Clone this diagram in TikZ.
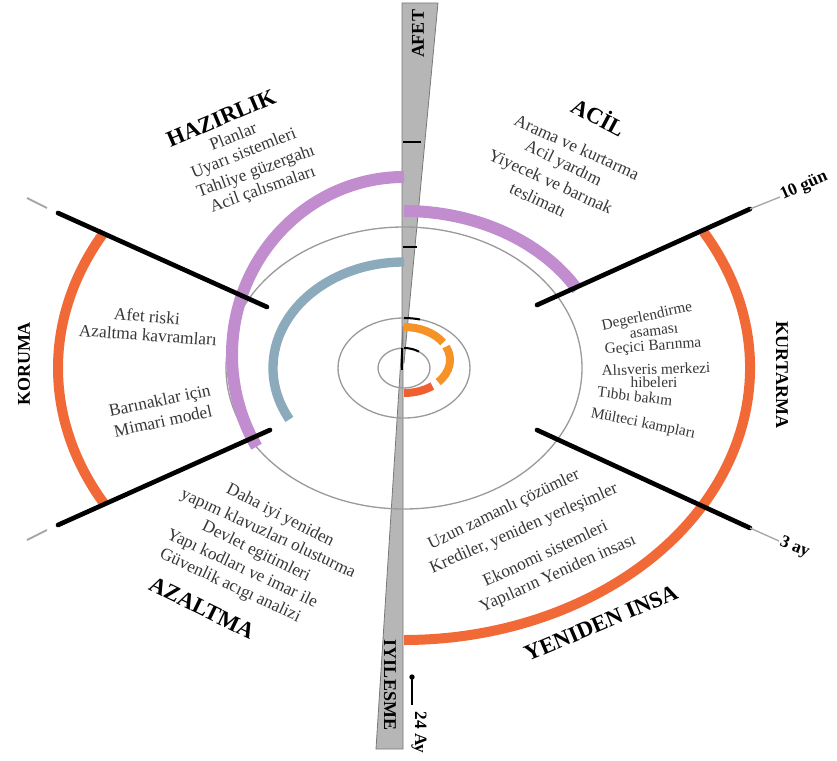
\documentclass[tikz,border=0pt]{standalone}
\usepackage{fontspec}
\setmainfont{Liberation Serif}
\definecolor{axisgray}{RGB}{182,182,182}
\definecolor{axisedge}{RGB}{120,120,120}
\definecolor{ringgray}{RGB}{155,155,155}
\definecolor{purp}{RGB}{193,141,207}
\definecolor{steel}{RGB}{139,170,188}
\definecolor{outer}{RGB}{242,105,56}
\definecolor{inner}{RGB}{246,146,38}
\definecolor{innerred}{RGB}{240,95,50}
\definecolor{txt}{RGB}{55,55,55}
\begin{document}
\begin{tikzpicture}[x=.75pt,y=.75pt,
  item/.style={font=\fontsize{13}{13}\selectfont,text=txt,inner sep=0pt},
  itemsm/.style={font=\fontsize{11.5}{11.5}\selectfont,text=txt,inner sep=0pt},
  head/.style={font=\fontsize{17}{17}\selectfont\bfseries,inner sep=0pt},
  side/.style={font=\fontsize{13.5}{13.5}\selectfont\bfseries,inner sep=0pt},
  time/.style={font=\fontsize{13}{13}\selectfont\bfseries,inner sep=1pt},
  ring/.style={ringgray,line width=1pt},
  spoke/.style={line width=3.5pt,line cap=round},
  tail/.style={gray!70,line width=1pt},
  tick/.style={line width=1.5pt}]
\useasboundingbox (-404,-392) rectangle (433,368);
% Time axis
\filldraw[axisgray,draw=axisedge,line width=.6pt] (-2,365) -- (34,365) -- (0,5) -- (-2,5) -- cycle;
\filldraw[axisgray,draw=axisedge,line width=.6pt] (-28,-381) -- (-1,-381) -- (-1,42) -- cycle;
% Circles
\draw[ring] (0,0) coordinate (origin) ellipse[x radius=26,y radius=20];
\draw[ring] (origin) ellipse[x radius=66,y radius=50];
\draw[ring] (origin) ellipse[x radius=178,y radius=141];
% Phase bands
\draw[steel,line width=7pt] (origin) ++(90:131 and 106) arc[start angle=90,end angle=209,x radius=131,y radius=106];
\draw[purp,line width=9pt] (0,13) ++(90:172 and 178) arc[start angle=90,end angle=211,x radius=172,y radius=178];
\draw[purp,line width=9pt] (origin) ++(90:200 and 157) arc[start angle=90,end angle=30,x radius=200,y radius=157];
\draw[outer,line width=7.5pt] (origin) ++(30:346 and 272) arc[start angle=30,end angle=-90,x radius=346,y radius=272];
\draw[outer,line width=7.5pt] (origin) ++(150:346 and 272) arc[start angle=150,end angle=210,x radius=346,y radius=272];
% Inner ring
\draw[inner,line width=6pt] (0,8) ++(90:46 and 33) arc[start angle=90,end angle=32,x radius=46,y radius=33];
\draw[inner,line width=6pt] (0,8) ++(24:46 and 33) arc[start angle=24,end angle=-42,x radius=46,y radius=33];
\draw[innerred,line width=6pt] (0,8) ++(-52:46 and 33) arc[start angle=-52,end angle=-90,x radius=46,y radius=33];
% Marks on the axis
\draw[tick] (origin) ++(90:26 and 20) arc[start angle=90,end angle=55,x radius=26,y radius=20];
\draw[tick] (-2,20) -- (-2,-2);
\draw[tick] (origin) ++(90:66 and 50) arc[start angle=90,end angle=76,x radius=66,y radius=50];
\draw[tick] (-1,121) -- (13,121);
\draw[tick] (-1,226) -- (17,226);
% Spokes
\coordinate (ne-in) at (133,63);   \coordinate (ne-out) at (346,159);
\coordinate (se-in) at (133,-62);  \coordinate (se-out) at (346,-160);
\coordinate (nw-in) at (-137,61);  \coordinate (nw-out) at (-346,155);
\coordinate (sw-in) at (-134,-62); \coordinate (sw-out) at (-346,-157);
\draw[spoke] (ne-in) -- (ne-out);
\draw[spoke] (se-in) -- (se-out);
\draw[spoke] (nw-in) -- (nw-out);
\draw[spoke] (sw-in) -- (sw-out);
\coordinate (nw-a) at (-357,160); \coordinate (nw-b) at (-377,170);
\coordinate (sw-a) at (-357,-162); \coordinate (sw-b) at (-377,-172);
\draw[tail,line width=1.5pt] (nw-a) -- (nw-b);
\draw[tail,line width=1.5pt] (sw-a) -- (sw-b);
% Time labels
\node[time,rotate=24,anchor=west] (gun10) at (376,171) {10 gün};
\draw[tail] (ne-out) -- (gun10.west);
\node[time,rotate=-22,anchor=west] (ay3) at (375,-173) {3 ay};
\draw[tail] (se-out) -- (ay3.west);
\coordinate (dot24) at (8,-309); \coordinate (end24) at (8,-337);
\fill (dot24) circle[radius=2pt];
\draw[line width=.8pt] (dot24) -- (end24);
\node[time,rotate=-90,anchor=west] (ay24) at (15,-342) {24 Ay};
\node[side,rotate=90] (afet) at (14,334) {AFET};
\node[side,rotate=-90] (iyilesme) at (-14,-317) {IYILESME};
% Hazirlik
\node[head,rotate=23] (hazirlik) at (-183,250) {HAZIRLIK};
\node[item,rotate=22] (planlar) at (-171,232) {Planlar};
\node[item,rotate=21.5] (uyari) at (-160,214) {Uyarı sistemleri};
\node[item,rotate=20] (tahliye) at (-148,196) {Tahliye güzergahı};
\node[item,rotate=19.5] (calisma) at (-141,178) {Acil çalısmaları};
% Acil
\node[head,rotate=-28] (acil) at (195,252) {ACİL};
\node[item,rotate=-24.5] (arama) at (173,221) {Arama ve kurtarma};
\node[item,rotate=-26] (yardim) at (159,204) {Acil yardım};
\node[item,rotate=-24.5] (yiyecek) at (146,185) {Yiyecek ve barınak};
\node[item,rotate=-25] (teslim) at (134,168) {teslimatı};
% Kurtarma
\node[side,rotate=-90] (kurtarma) at (378,-7) {KURTARMA};
\node[itemsm,rotate=12] (deger) at (243,51) {Degerlendirme};
\node[itemsm,rotate=7] (asama) at (250,36) {asaması};
\node[itemsm,rotate=4] (gecici) at (249,21) {Geçici Barınma};
\node[itemsm,rotate=1.5] (alisveris) at (252,-1) {Alısveris merkezi};
\node[itemsm] (hibe) at (250,-14) {hibeleri};
\node[itemsm,rotate=-7] (tibbi) at (231,-28) {Tıbbı bakım};
\node[itemsm,rotate=-11.5] (multeci) at (239,-56) {Mülteci kampları};
% Koruma
\node[side,rotate=90] (koruma) at (-380,4) {KORUMA};
\node[item,rotate=-5] (afetrisk) at (-257,52) {Afet riski};
\node[item,rotate=-4] (azaltkav) at (-256,33) {Azaltma kavramları};
\node[item,rotate=12] (barinak) at (-244,-34) {Barınaklar için};
\node[item,rotate=12] (mimari) at (-241,-53) {Mimari model};
% Azaltma
\node[item,rotate=-27] (dahaiyi) at (-124,-148) {Daha iyi yeniden};
\node[item,rotate=-25] (klavuz) at (-136,-166) {yapım klavuzları olusturma};
\node[item,rotate=-26] (devlet) at (-148,-184) {Devlet egitimleri};
\node[item,rotate=-25] (kodlar) at (-162,-201) {Yapı kodları ve imar ile};
\node[item,rotate=-25] (guvenlik) at (-174,-218) {Güvenlik acıgı analizi};
\node[head,rotate=-26] (azaltma) at (-202,-240) {AZALTMA};
% Yeniden insa
\node[item,rotate=25.5] (uzun) at (100,-142) {Uzun zamanlı çözümler};
\node[item,rotate=23.5] (kredi) at (120,-161) {Krediler, yeniden yerleşimler};
\node[item,rotate=25] (ekonomi) at (141,-185) {Ekonomi sistemleri};
\node[item,rotate=24] (yapilar) at (154,-206) {Yapıların Yeniden insası};
\node[head,rotate=23] (yeniden) at (197,-255) {YENIDEN INSA};
\end{tikzpicture}
\end{document}
